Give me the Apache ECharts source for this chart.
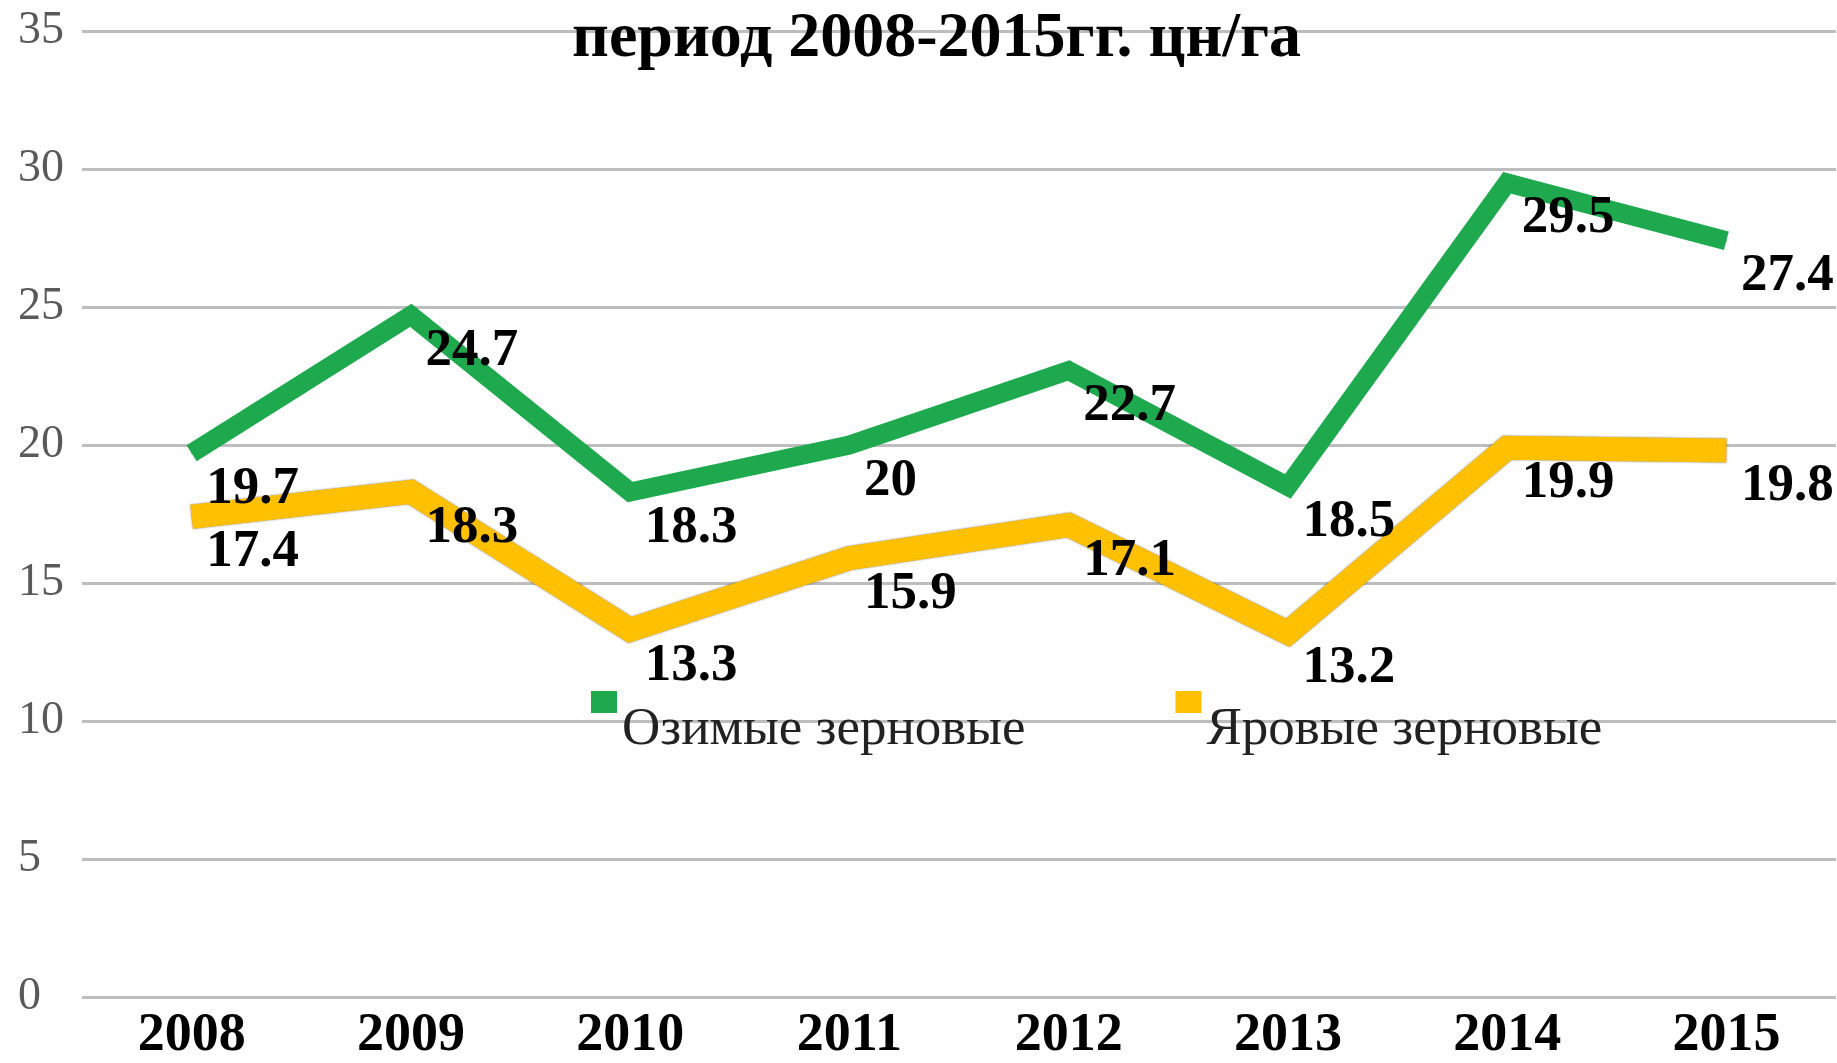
<!DOCTYPE html>
<html>
<head>
<meta charset="utf-8">
<script src="https://cdn.jsdelivr.net/npm/echarts@6/dist/echarts.min.js"></script>
<style>
    html, body { margin: 0; padding: 0; background: #fff; }
    #chart { width: 1837px; height: 1063px; }
</style>
</head>
<body>
<div id="chart"></div>
<script>
// данные с картинки
var years = ['2008', '2009', '2010', '2011', '2012', '2013', '2014', '2015']
var ozimye = [19.7, 24.7, 18.3, 20, 22.7, 18.5, 29.5, 27.4]
var yarovye = [17.4, 18.3, 13.3, 15.9, 17.1, 13.2, 19.9, 19.8]
var seriesNames = ['Озимые зерновые', 'Яровые зерновые']

var serif = "'Liberation Serif', 'Times New Roman', serif"

var myChart = echarts.init(document.getElementById('chart'))

var labelStyle = {
    show: true,
    position: 'right',
    offset: [9, 36],
    color: '#000',
    fontFamily: serif,
    fontWeight: 'bold',
    fontSize: 53
}

var options = {
    animation: false,
    title: {
        text: 'период 2008-2015гг. цн/га',
        left: 567,
        top: 2,
        textStyle: {
            color: '#000',
            fontFamily: serif,
            fontWeight: 'bold',
            fontSize: 64
        }
    },
    legend: {
        left: 586,
        top: 641,
        icon: 'rect',
        itemWidth: 26,
        itemHeight: 22,
        itemGap: 150,
        data: seriesNames,
        // текст легенды ниже значка, как в оригинале
        formatter: function (name) {
            return '\n' + name
        },
        textStyle: {
            color: '#222',
            fontFamily: serif,
            fontSize: 53,
            lineHeight: 56
        }
    },
    grid: {
        left: 82,
        right: 1,
        top: 31,
        bottom: 66
    },
    xAxis: {
        type: 'category',
        data: years,
        axisLine: { show: false },
        axisTick: { show: false },
        axisLabel: {
            color: '#000',
            fontFamily: serif,
            fontWeight: 'bold',
            fontSize: 54,
            margin: 12
        }
    },
    yAxis: {
        type: 'value',
        min: 0,
        max: 35,
        interval: 5,
        axisLine: { show: false },
        axisTick: { show: false },
        axisLabel: {
            color: '#595959',
            fontFamily: serif,
            fontSize: 46,
            align: 'left',
            margin: 64
        },
        splitLine: {
            lineStyle: {
                color: '#bdbdbd',
                width: 3
            }
        }
    },
    series: [
        {
            name: seriesNames[0],
            type: 'line',
            data: ozimye,
            symbol: 'circle',
            symbolSize: 1,
            color: '#1ea94f',
            lineStyle: {
                width: 19,
                color: '#1ea94f',
                join: 'miter'
            },
            label: labelStyle,
            z: 3
        },
        {
            name: seriesNames[1],
            type: 'line',
            data: yarovye,
            symbol: 'circle',
            symbolSize: 1,
            color: '#ffc000',
            lineStyle: {
                width: 24,
                color: '#ffc000',
                join: 'miter',
                shadowColor: 'rgba(0,0,0,0.55)',
                shadowBlur: 2
            },
            label: labelStyle,
            z: 2
        }
    ]
}

myChart.setOption(options)
</script>
</body>
</html>
